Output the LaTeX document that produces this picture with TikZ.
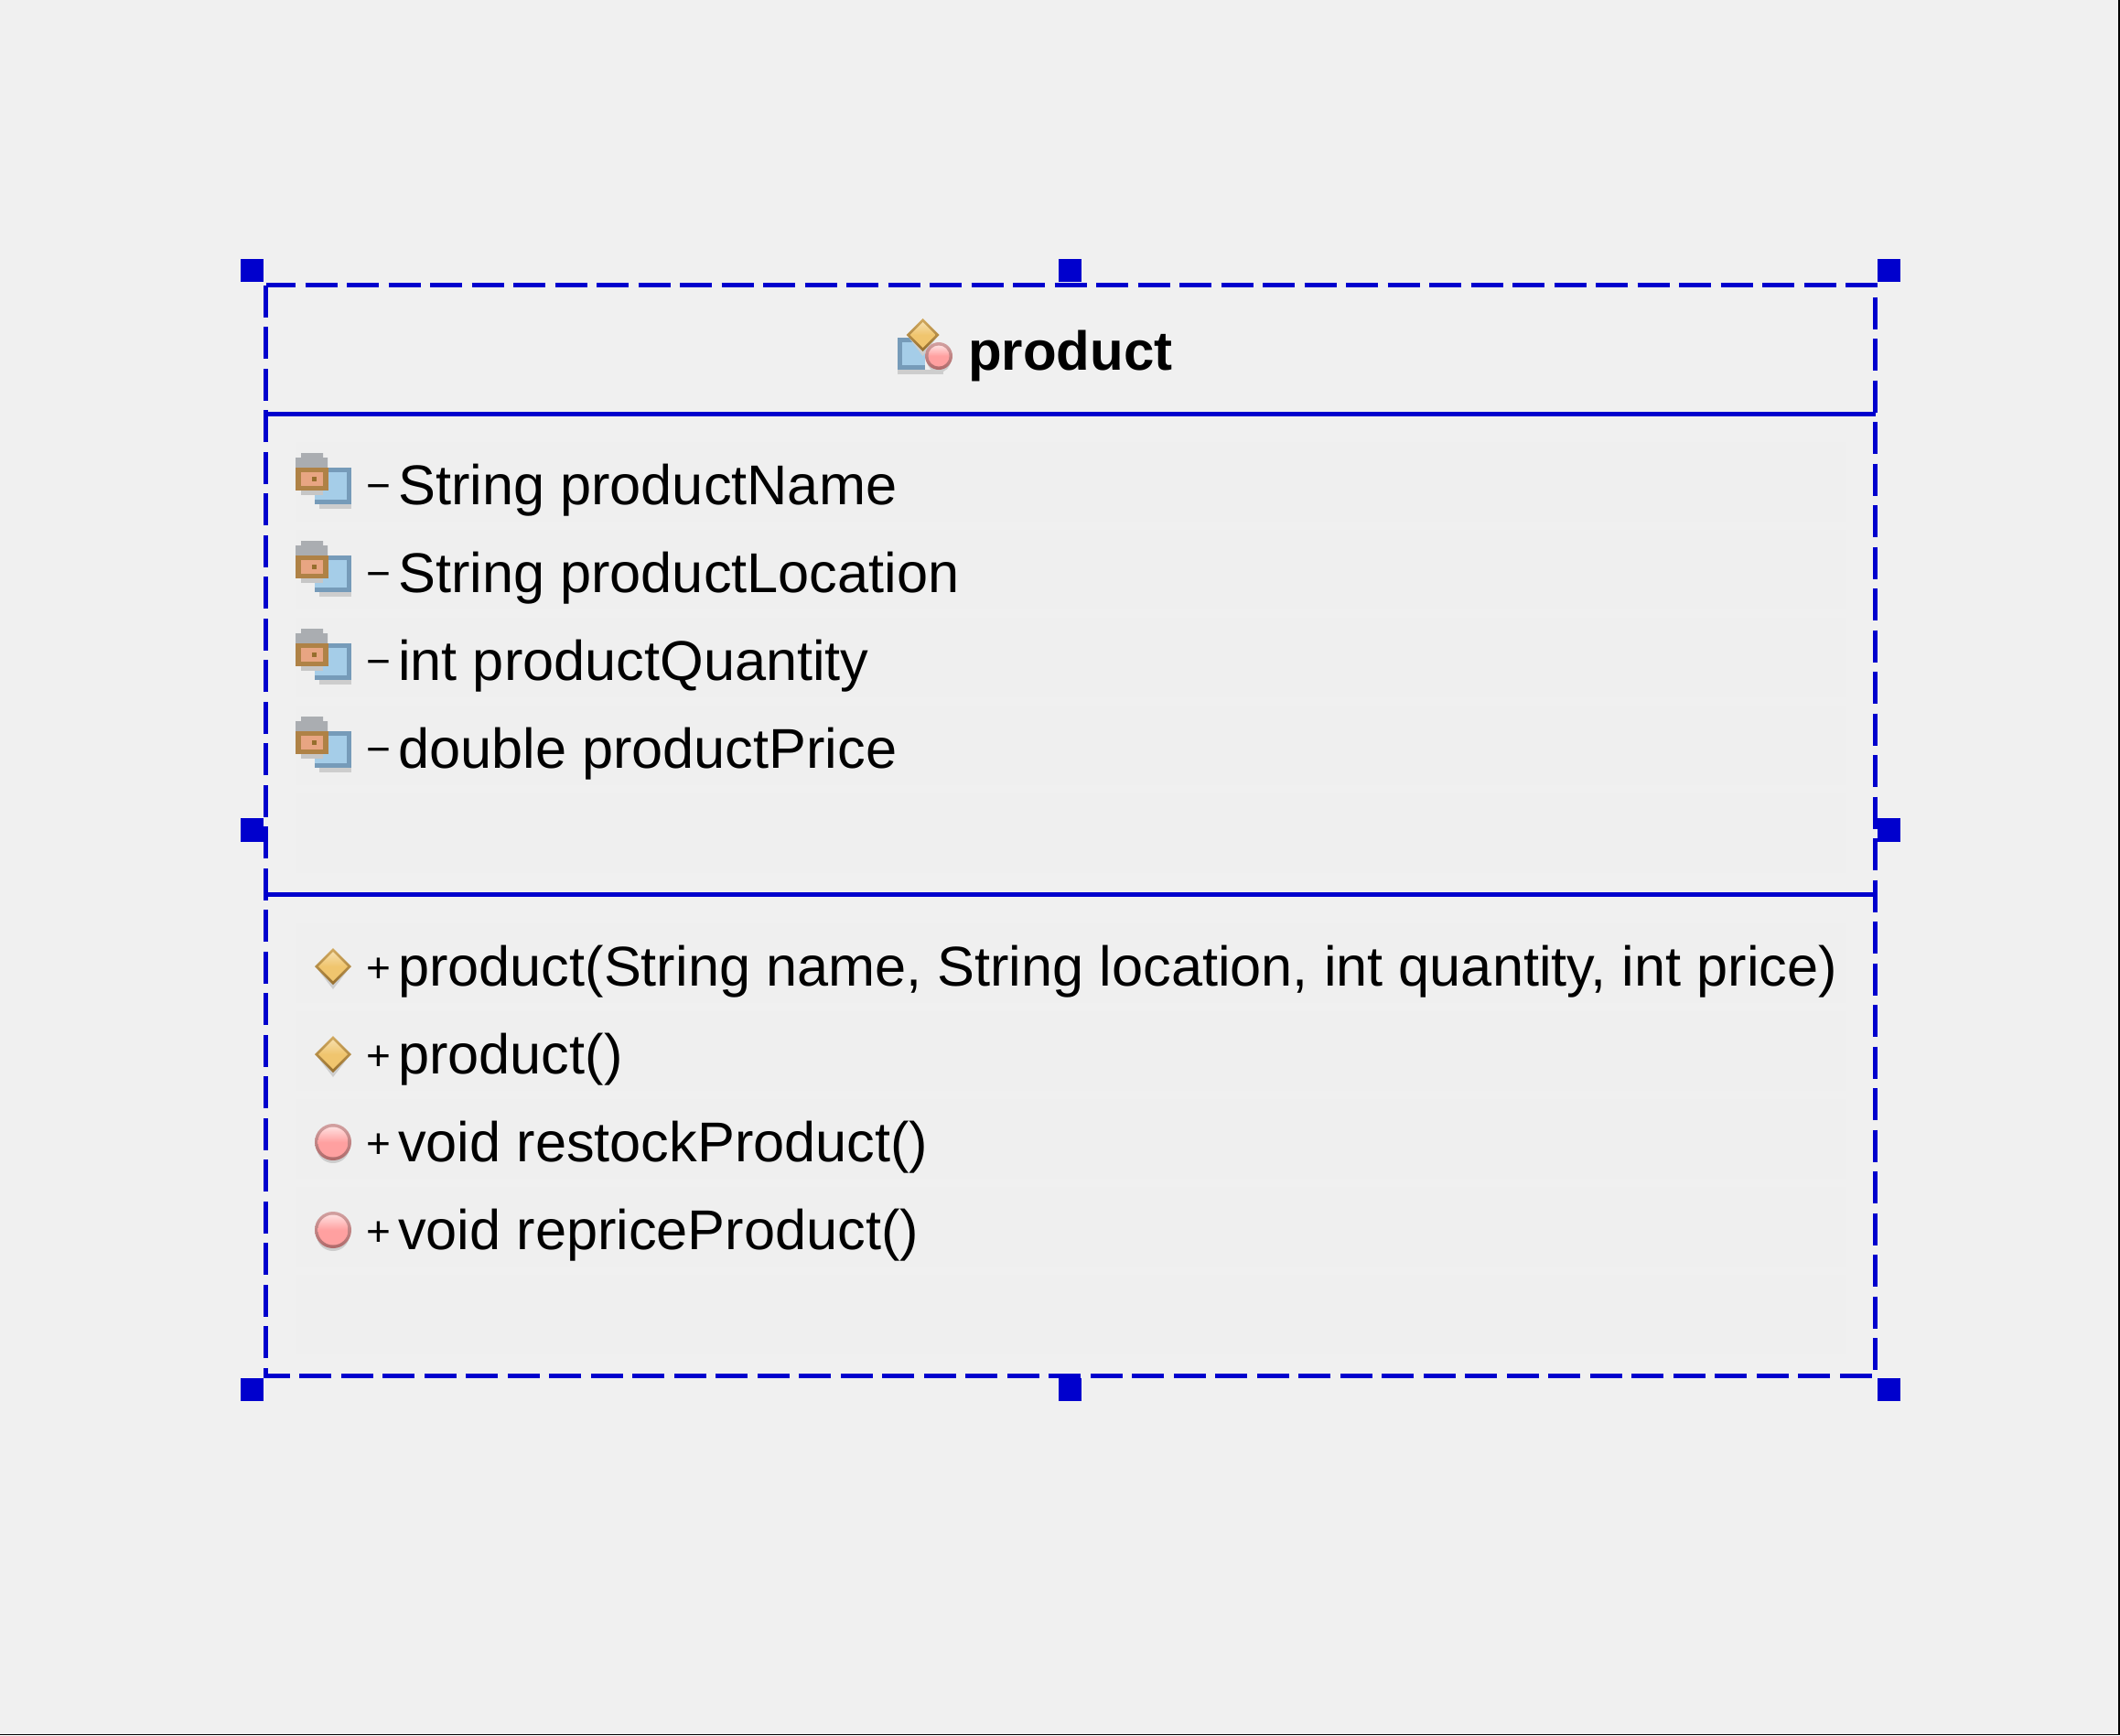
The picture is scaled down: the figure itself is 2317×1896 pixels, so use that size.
\documentclass[tikz,border=0pt]{standalone}
\usepackage{fontspec}
\setmainfont{Liberation Sans}
\definecolor{selblue}{RGB}{0,0,205}
\definecolor{panegray}{RGB}{240,240,240}
\definecolor{rowgray}{RGB}{239,239,239}
\definecolor{iconshadow}{RGB}{205,205,205}
\definecolor{goldtop}{RGB}{210,170,95}
\definecolor{goldlow}{RGB}{150,110,45}
\definecolor{goldlight}{RGB}{246,222,170}
\definecolor{goldfill}{RGB}{240,197,110}
\definecolor{pinktop}{RGB}{210,160,160}
\definecolor{pinklow}{RGB}{175,105,105}
\definecolor{pinklight}{RGB}{255,222,222}
\definecolor{pinkfill}{RGB}{255,160,160}
\definecolor{fieldedge}{RGB}{118,155,185}
\definecolor{fieldfill}{RGB}{165,205,232}
\definecolor{lockgray}{RGB}{170,173,177}
\definecolor{lockedge}{RGB}{175,130,70}
\definecolor{lockfill}{RGB}{232,165,130}
\newcommand{\umlfont}{\fontsize{61.3}{72}\selectfont}
\newcommand{\titlefont}{\fontsize{60}{72}\selectfont\bfseries}
\newcommand{\signfont}{\fontsize{46}{55}\selectfont}
\tikzset{
  handlebox/.style={fill=selblue,draw=none},
  rowback/.style={fill=rowgray,draw=none},
  membertext/.style={anchor=base west,inner sep=0pt,font=\umlfont},
  signtext/.style={anchor=base,inner sep=0pt,font=\signfont},
  pics/goldicon/.style={code={
    \fill[iconshadow] (0,-#1+6) -- (#1-3,3) -- (0,#1+5) -- (-#1+3,3) --cycle;
    \shade[top color=goldtop,bottom color=goldlow] (0,-#1) -- (#1,0) -- (0,#1) -- (-#1,0) --cycle;
    \shade[top color=goldlight,bottom color=goldfill,middle color=goldfill]
    (0,-#1+4) -- (#1-4,0) -- (0,#1-4) -- (-#1+4,0) --cycle;
  }},
  pics/pinkicon/.style={code={
    \fill[iconshadow] (0,5) circle(#1-2);
    \shade[top color=pinktop,bottom color=pinklow] (0,0) circle(#1);
    \shade[top color=pinklight,bottom color=pinkfill,middle color=pinkfill] (0,0) circle(#1-3.5);
  }},
  pics/fieldicon/.style={code={
    \fill[iconshadow] (5,40) rectangle (40,45);
    \fill[color=fieldedge] (0,0) rectangle (40,40);
    \fill[color=fieldfill] (0,5) rectangle (35,35);
    \fill[color=gray!45] (-15,25) rectangle (9,30);
    \fill[color=lockgray] (-21,-11) -- (-15,-11) -- (-15,-16) -- (9,-16) -- (9,-11) -- (14,-11) -- (14,0) -- (-21,0) --cycle;
    \fill[color=lockedge] (-21,0) rectangle (15,25);
    \fill[color=lockfill] (-15,5) rectangle (9,20);
    \fill[color=goldlow] (-3,10) rectangle (2,15);
  }},
}
\begin{document}
\begin{tikzpicture}[x=1pt,y=-1pt]
  \useasboundingbox (0,0) rectangle (2317,1896);
  \fill[color=panegray] (0,0) rectangle (2317,1896);
  \fill[color=black] (2315,0) rectangle (2317,1896);
  \fill[color=black] (0,1895) rectangle (2317,1896);
  % row strips
  \foreach \rowy in {483,579,675,771,867,1009,1105,1201,1297,1393}
    \fill[rowback] (323,\rowy) rectangle (2018,\rowy+87);
  % frame and compartments
  \draw[color=selblue,line width=5pt,dash pattern=on 35pt off 10.5pt,dash phase=2.5pt]
  (290.5,311.5) -- (2049.5,311.5) -- (2049.5,1503.5) -- (290.5,1503.5) --cycle;
  \draw[color=selblue,line width=5pt](290.5,452.5) -- (2049.5,452.5);
  \draw[color=selblue,line width=5pt](290.5,977.5) -- (2049.5,977.5);
  % handles
  \foreach \hx in {263,1157,2052}{
    \fill[handlebox] (\hx,283) rectangle +(25,25);
    \fill[handlebox] (\hx,1506) rectangle +(25,25);
  }
  \fill[handlebox] (263,894) rectangle +(25,26);
  \fill[handlebox] (2052,894) rectangle +(25,26);
  % title
  \fill[iconshadow] (981,404) rectangle (1031,409);
  \fill[color=fieldedge] (981,369) rectangle (1011,404);
  \fill[color=fieldfill] (986,374) rectangle (1011,399);
  \pic at (1008.5,366) {goldicon=18};
  \pic at (1026,389) {pinkicon=15};
  \node[anchor=base west,inner sep=0pt,font=\titlefont] (title) at (1058,404) {product};
  % attributes
  \foreach \i/\basey/\txt in {1/551/String productName,2/647/String productLocation,
    3/743/int productQuantity,4/839/double productPrice}{
    \pic at (344,\basey-40) {fieldicon};
    \node[signtext] (minus\i) at (414,\basey-5) {−};
    \node[membertext] (attr\i) at (435,\basey) {\txt};
  }
  % methods
  \foreach \i/\basey/\txt in {1/1077/{product(String name, String location, int quantity, int price)},2/1173/product()}{
    \pic at (364,\basey-21) {goldicon=20};
    \node[signtext] (plus\i) at (414,\basey-4) {+};
    \node[membertext] (meth\i) at (435,\basey) {\txt};
  }
  \foreach \i/\basey/\txt in {3/1269/void restockProduct(),4/1365/void repriceProduct()}{
    \pic at (364,\basey-21) {pinkicon=20};
    \node[signtext] (plus\i) at (414,\basey-4) {+};
    \node[membertext] (meth\i) at (435,\basey) {\txt};
  }
\end{tikzpicture}
\end{document}
